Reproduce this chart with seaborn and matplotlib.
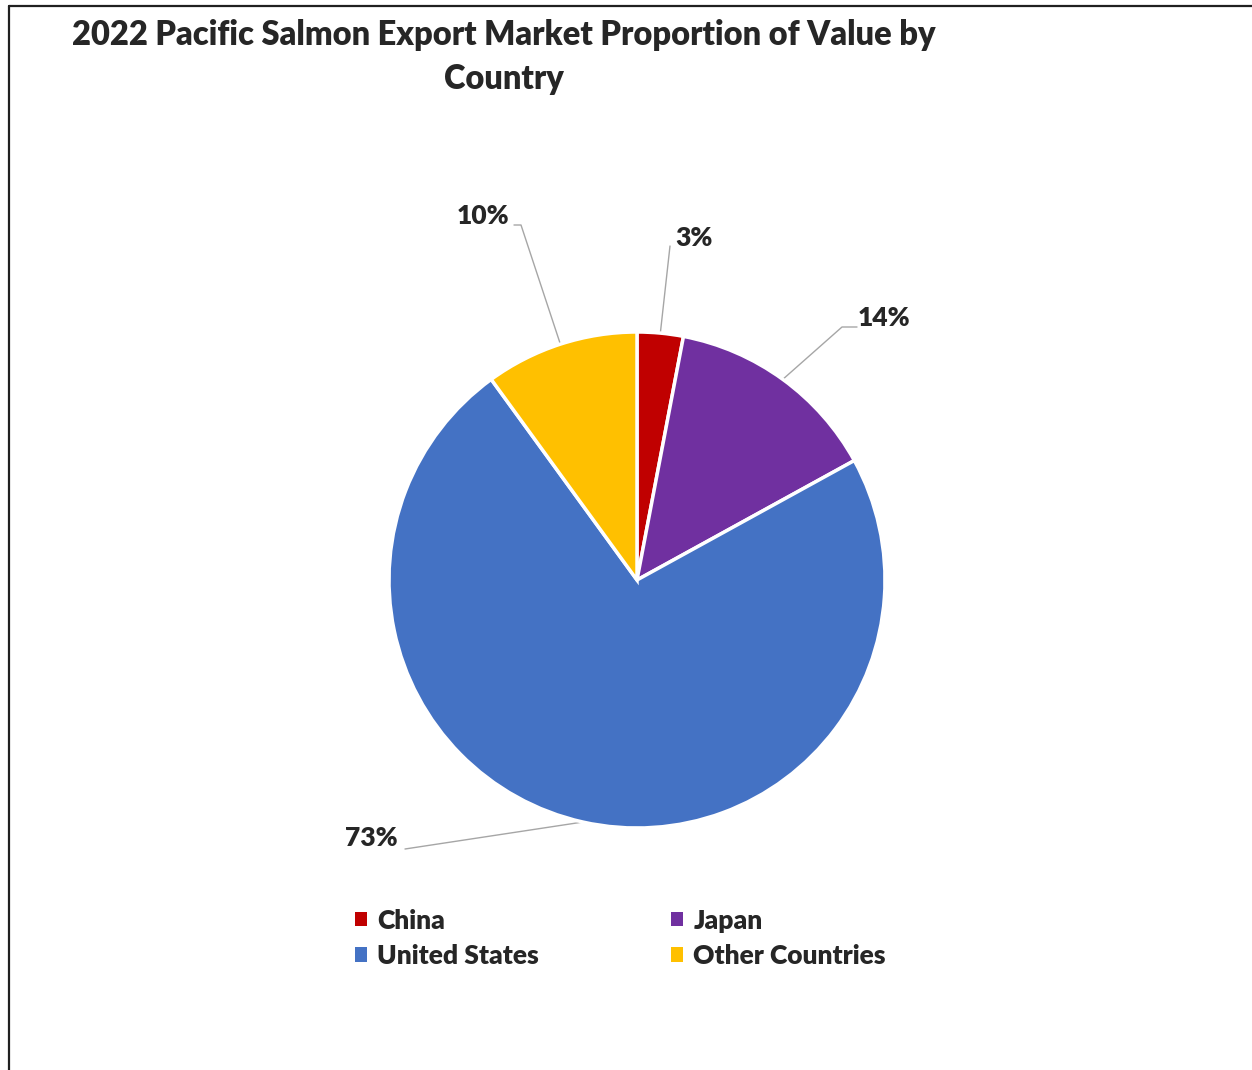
import numpy as np
import matplotlib
matplotlib.use("Agg")
import matplotlib.pyplot as plt
from matplotlib.lines import Line2D
from matplotlib.patches import Patch
import seaborn as sns

# ---- data ----
countries = ["China", "Japan", "United States", "Other Countries"]
shares = [3, 14, 73, 10]
pct_labels = ["3%", "14%", "73%", "10%"]
colors = ["#C00000", "#7030A0", "#4472C4", "#FFC000"]

sns.set_theme(style="white")
plt.rcParams['font.family'] = ['Lato', 'DejaVu Sans']

W, H = 1252, 1070
fig = plt.figure(figsize=(W / 100, H / 100), dpi=100)
fig.patch.set_facecolor("white")

cx, cy, R = 637, 580, 248
ax = fig.add_axes([(cx - R) / W, (H - cy - R) / H, 2 * R / W, 2 * R / H])
wedges, _ = ax.pie(shares, colors=colors, startangle=90, counterclock=False,
                   radius=1.0, wedgeprops=dict(edgecolor="white", linewidth=2.5))
ax.set_xlim(-1, 1)
ax.set_ylim(-1, 1)
ax.set_aspect("equal")
ax.axis("off")

def d(px, py):
    return ((px - cx) / R, (cy - py) / R)

label_pos = {"3%": d(694, 238), "14%": d(884, 318), "73%": d(371, 838), "10%": d(483, 216)}
line_start = {"3%": d(670, 246), "14%": d(857, 327), "73%": d(405, 849), "10%": d(514, 225)}
elbow = {"3%": None, "14%": d(842, 327), "73%": None, "10%": d(521, 225)}

cum = 0
for w, s, lab in zip(wedges, shares, pct_labels):
    mid = 90 - (cum + s / 2) / 100 * 360
    cum += s
    ex, ey = np.cos(np.radians(mid)), np.sin(np.radians(mid))
    pts = [line_start[lab]]
    if elbow[lab] is not None:
        pts.append(elbow[lab])
    pts.append((ex, ey))
    xs, ys = zip(*pts)
    ax.plot(xs, ys, color="#A6A6A6", lw=1, clip_on=False, zorder=0)
    tx, ty = label_pos[lab]
    ax.text(tx, ty, lab, ha="center", va="center", fontsize=19,
            fontweight="heavy", color="#262626", clip_on=False)

fig.text(504 / W, 1 - 35 / H, "2022 Pacific Salmon Export Market Proportion of Value by",
         ha="center", va="center", fontsize=23.5, fontweight="heavy", color="#262626")
fig.text(504 / W, 1 - 79 / H, "Country",
         ha="center", va="center", fontsize=23.5, fontweight="heavy", color="#262626")

order = [0, 2, 1, 3]
handles = [Patch(facecolor=colors[i], edgecolor="none") for i in order]
labels = [countries[i] for i in order]
leg = fig.legend(handles, labels, ncol=2, loc="upper left",
                 bbox_to_anchor=(331 / W, 1 - 885 / H), frameon=False,
                 handlelength=0.45, handleheight=0.45,
                 handletextpad=0.4, columnspacing=5.0, labelspacing=0.42,
                 prop=dict(weight="heavy", size=19))
for t in leg.get_texts():
    t.set_color("#262626")

# partial frame (top and left)
fig.add_artist(Line2D([8.5 / W, 1], [1 - 5.5 / H, 1 - 5.5 / H], color="#202020", lw=1.6,
                      transform=fig.transFigure))
fig.add_artist(Line2D([8.5 / W, 8.5 / W], [0, 1 - 5.5 / H], color="#202020", lw=1.6,
                      transform=fig.transFigure))

fig.savefig("out.png", dpi=100, facecolor="white")
